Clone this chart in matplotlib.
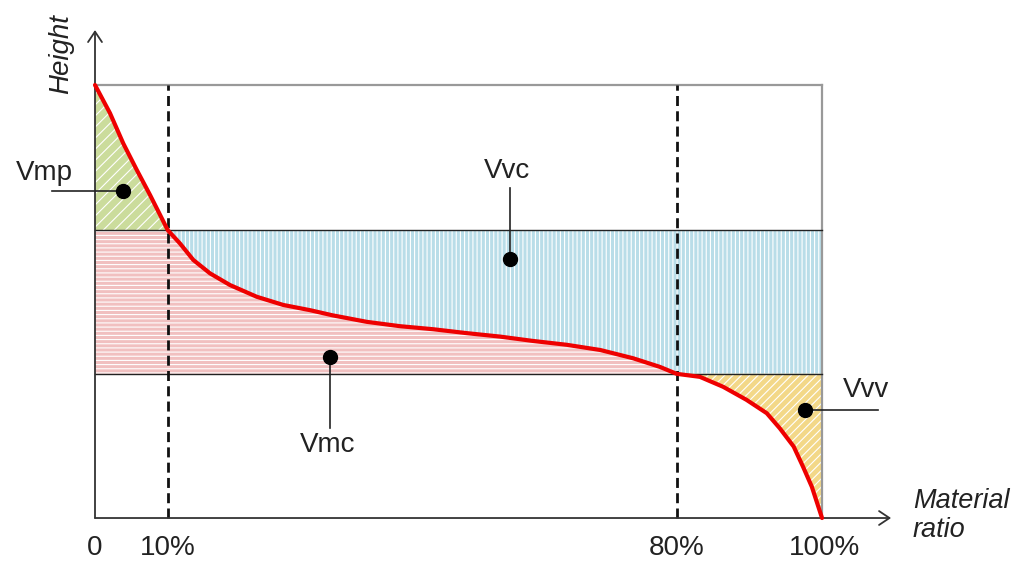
import matplotlib
matplotlib.use("Agg")
import matplotlib.pyplot as plt
import numpy as np

# ---- data ----
ratio = [0, 2.06, 3.89, 5.74, 7.57, 10, 11.69, 13.52, 15.82, 18.57, 22.24, 25.9,
         29.57, 32.7, 37.4, 41.95, 46.5, 51.1, 55.7, 60.2, 64.9, 69.5, 74.0, 77.7,
         80, 83.2, 86.4, 89.6, 92.4, 94.2, 96.1, 97.4, 98.6, 100]
height = [100, 93.5, 86.5, 80.4, 74.6, 66.5, 63.4, 59.6, 56.5, 53.8, 51.1, 49.2,
          48.0, 46.8, 45.3, 44.3, 43.6, 42.7, 41.9, 40.9, 40.0, 38.8, 36.9, 34.9,
          33.3, 32.6, 30.3, 27.3, 24.2, 20.7, 16.5, 11.8, 7.2, 0]
upper_level = 66.5
lower_level = 33.3
split_ratios = [10, 80]
tick_positions = [0, 10, 80, 100]
tick_labels = ["0", "10%", "80%", "100%"]
region_names = ["Vmp", "Vvc", "Vmc", "Vvv"]

plt.rcParams['font.family'] = ['Liberation Sans', 'DejaVu Sans']
plt.rcParams['hatch.linewidth'] = 0.8

fig = plt.figure(figsize=(10.24, 5.74), dpi=100)
ax = fig.add_axes([0, 0, 1, 1])
ax.set_xlim(-13.067, 127.78)
ax.set_ylim(-12.93, 119.63)
ax.axis('off')

x = np.array(ratio, dtype=float)
h = np.array(height, dtype=float)
x1, x2 = split_ratios

# Vmp (green)
ax.fill_between(x, upper_level, h, where=(x <= x1) & (h >= upper_level), interpolate=True,
                facecolor='#cbdc9c', edgecolor='white', hatch='///', linewidth=0, zorder=1)
# Vmc (pink)
ax.fill_between(x, lower_level, np.minimum(h, upper_level), where=(x <= x2), interpolate=True,
                facecolor='#f1c0c0', edgecolor='white', hatch='----', linewidth=0, zorder=1)
# Vvc (blue)
ax.fill_between(x, np.maximum(h, lower_level), upper_level, where=(x >= x1), interpolate=True,
                facecolor='#b9dde8', edgecolor='white', hatch='||||', linewidth=0, zorder=1)
# Vvv (yellow)
ax.fill_between(x, h, lower_level, where=(x >= x2), interpolate=True,
                facecolor='#f3d888', edgecolor='white', hatch='////', linewidth=0, zorder=1)

# box
ax.plot([0, 100], [100, 100], color='#999999', lw=1.6, zorder=2)
ax.plot([100, 100], [0, 100], color='#999999', lw=1.6, zorder=2)
# level lines
ax.plot([0, 100], [upper_level, upper_level], color='#222222', lw=1.0, zorder=3)
ax.plot([0, 100], [lower_level, lower_level], color='#222222', lw=1.0, zorder=3)
# dashed verticals
for xv in split_ratios:
    ax.plot([xv, xv], [0, 100], color='#111111', lw=2.0, linestyle=(0, (3.6, 1.9)), zorder=3)

# axes with open arrows
arrow_kw = dict(arrowstyle='->,head_length=0.75,head_width=0.5', lw=1.3, color='#333333',
                shrinkA=0, shrinkB=0)
ax.annotate('', xy=(0, 112.7), xytext=(0, 0), arrowprops=arrow_kw, zorder=4)
ax.annotate('', xy=(109.5, 0), xytext=(0, 0), arrowprops=arrow_kw, zorder=4)

# curve
ax.plot(x, h, color='#ee0000', lw=3.0, zorder=5, solid_capstyle='round',
        solid_joinstyle='round')

txt = dict(fontsize=20, color='#222222', ha='center', va='center')
# Vmp
ax.plot([-5.9, 3.85], [75.5, 75.5], color='#222222', lw=1.2, zorder=6)
ax.plot([3.85], [75.5], 'o', color='black', ms=10, zorder=7)
ax.text(-6.9, 79.6, region_names[0], **txt)
# Vvc
ax.plot([57.1, 57.1], [76.2, 59.8], color='#222222', lw=1.2, zorder=6)
ax.plot([57.1], [59.8], 'o', color='black', ms=10, zorder=7)
ax.text(56.7, 80.2, region_names[1], **txt)
# Vmc
ax.plot([32.3, 32.3], [37.2, 20.8], color='#222222', lw=1.2, zorder=6)
ax.plot([32.3], [37.2], 'o', color='black', ms=10, zorder=7)
ax.text(32.0, 16.8, region_names[2], **txt)
# Vvv
ax.plot([97.7, 107.7], [24.9, 24.9], color='#222222', lw=1.2, zorder=6)
ax.plot([97.7], [24.9], 'o', color='black', ms=10, zorder=7)
ax.text(106.1, 29.6, region_names[3], **txt)

# tick labels
for tp, tl in zip(tick_positions, tick_labels):
    ax.text(tp + (0.4 if tp == 100 else 0), -7.0, tl, **txt)

ax.text(-4.68, 107.2, "Height", rotation=90, fontsize=20, style='italic',
        color='#222222', ha='center', va='center')
ax.text(112.5, 0.5, "Material\nratio", fontsize=19.5, style='italic', color='#222222',
        ha='left', va='center', linespacing=1.15)

fig.savefig("out.png", dpi=100)
